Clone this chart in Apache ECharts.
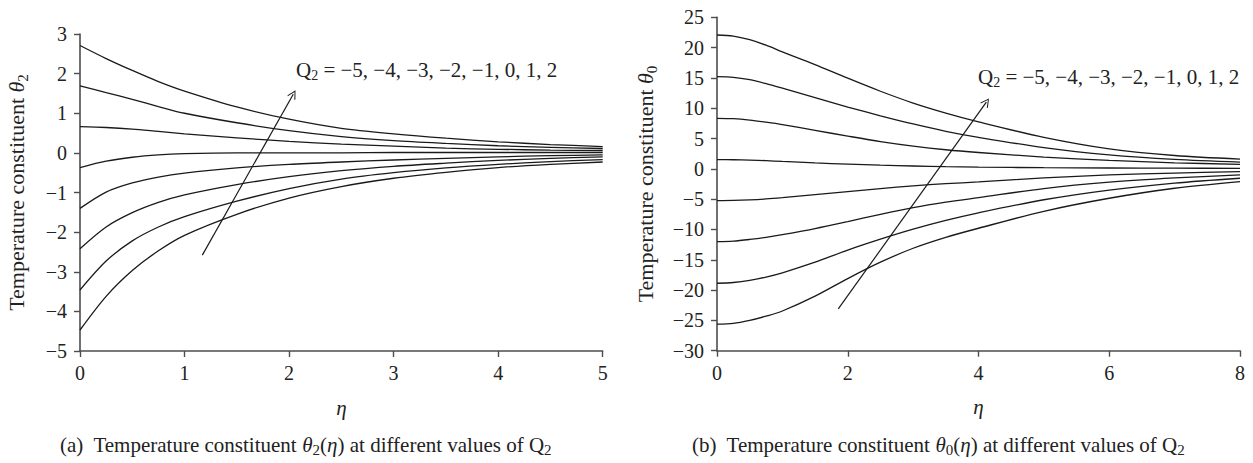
<!DOCTYPE html>
<html>
<head>
<meta charset="utf-8">
<script src="https://cdn.jsdelivr.net/npm/echarts@6/dist/echarts.min.js"></script>
<style>
html,body{margin:0;padding:0;background:#fff;}
#c{width:1253px;height:463px;}
</style>
</head>
<body>
<div id="c"></div>
<script>
// ---------- Panel (a): theta_2(eta) ----------
const etaA = [0, 0.25, 0.5, 0.75, 1, 1.5, 2, 2.5, 3, 3.5, 4, 4.5, 5];
const thA_Q2  = [2.71, 2.38, 2.08, 1.80, 1.56, 1.16, 0.85, 0.62, 0.48, 0.37, 0.28, 0.21, 0.16];
const thA_Q1  = [1.69, 1.52, 1.35, 1.17, 1.00, 0.76, 0.56, 0.41, 0.31, 0.24, 0.18, 0.14, 0.11];
const thA_Q0  = [0.66, 0.64, 0.60, 0.54, 0.48, 0.38, 0.29, 0.22, 0.17, 0.12, 0.09, 0.07, 0.06];
const thA_Qm1 = [-0.37, -0.21, -0.11, -0.05, -0.02, 0.00, 0.00, 0.00, 0.01, 0.01, 0.01, 0.01, 0.01];
const thA_Qm2 = [-1.40, -0.99, -0.76, -0.61, -0.51, -0.38, -0.29, -0.23, -0.18, -0.14, -0.10, -0.07, -0.05];
const thA_Qm3 = [-2.42, -1.87, -1.51, -1.25, -1.06, -0.80, -0.60, -0.45, -0.34, -0.26, -0.19, -0.14, -0.10];
const thA_Qm4 = [-3.46, -2.73, -2.22, -1.87, -1.61, -1.22, -0.90, -0.66, -0.50, -0.38, -0.29, -0.22, -0.17];
const thA_Qm5 = [-4.47, -3.62, -2.97, -2.47, -2.08, -1.55, -1.14, -0.85, -0.64, -0.49, -0.37, -0.29, -0.23];
const arrowA = [[1.17, -2.58], [2.04, 1.48]];

// ---------- Panel (b): theta_0(eta) ----------
const etaB = [0, 0.25, 0.5, 0.75, 1, 1.5, 2, 2.5, 3, 3.5, 4, 5, 6, 7, 8];
const thB_Q2  = [22.08, 21.9, 21.3, 20.4, 19.3, 17.2, 14.95, 12.8, 10.85, 9.2, 7.75, 5.2, 3.3, 2.2, 1.6];
const thB_Q1  = [15.2, 15.1, 14.7, 14.05, 13.3, 11.75, 10.2, 8.75, 7.4, 6.2, 5.2, 3.5, 2.3, 1.55, 1.1];
const thB_Q0  = [8.34, 8.28, 8.05, 7.7, 7.3, 6.35, 5.4, 4.5, 3.75, 3.15, 2.7, 1.95, 1.4, 1.0, 0.75];
const thB_Qm1 = [1.52, 1.50, 1.45, 1.35, 1.22, 0.98, 0.78, 0.6, 0.47, 0.36, 0.28, 0.19, 0.14, 0.11, 0.09];
const thB_Qm2 = [-5.24, -5.21, -5.12, -4.97, -4.75, -4.25, -3.75, -3.25, -2.8, -2.45, -2.15, -1.5, -1.0, -0.7, -0.46];
const thB_Qm3 = [-12.0, -11.92, -11.65, -11.3, -10.85, -9.85, -8.7, -7.5, -6.4, -5.5, -4.75, -3.25, -2.2, -1.5, -1.0];
const thB_Qm4 = [-18.87, -18.75, -18.4, -17.85, -17.15, -15.4, -13.4, -11.6, -9.95, -8.5, -7.25, -5.1, -3.5, -2.35, -1.55];
const thB_Qm5 = [-25.63, -25.5, -25.0, -24.3, -23.45, -21.0, -18.1, -15.4, -13.1, -11.3, -9.8, -7.0, -4.85, -3.2, -2.1];
const arrowB = [[1.855, -23.1], [4.12, 11.0]];

const seriesA = [thA_Q2, thA_Q1, thA_Q0, thA_Qm1, thA_Qm2, thA_Qm3, thA_Qm4, thA_Qm5];
const seriesB = [thB_Q2, thB_Q1, thB_Q0, thB_Qm1, thB_Qm2, thB_Qm3, thB_Qm4, thB_Qm5];

const SERIF = '"Liberation Serif", "DejaVu Serif", serif';
const AXIS_COLOR = '#4d4d4d';
const LINE_COLOR = '#1a1a1a';
const TXT = '#222';
const minusFmt = v => String(v).replace('-', '\u2212');
const chevron = 'path://M10,0 L20,11 L18.4,12.2 L10,2.6 L1.6,12.2 L0,11 Z';

function curve(data, xs, gi) {
  return {
    type: 'line', xAxisIndex: gi, yAxisIndex: gi,
    data: xs.map((x, i) => [x, data[i]]),
    smooth: 0.3, showSymbol: false, silent: true,
    lineStyle: { color: LINE_COLOR, width: 1.3 }
  };
}
function arrow(coords, gi) {
  return {
    type: 'lines', coordinateSystem: 'cartesian2d', xAxisIndex: gi, yAxisIndex: gi,
    data: [{ coords: coords }],
    symbol: ['none', chevron], symbolSize: [11, 9],
    lineStyle: { color: LINE_COLOR, width: 1.2, opacity: 1 },
    silent: true, z: 5
  };
}
function xAx(gi, max, interval) {
  return {
    type: 'value', gridIndex: gi, min: 0, max: max, interval: interval,
    name: '\u03b7', nameLocation: 'middle', nameGap: 46,
    nameTextStyle: { fontFamily: SERIF, fontSize: 21, fontStyle: 'italic', color: TXT },
    axisLine: { onZero: false, lineStyle: { color: AXIS_COLOR, width: 1.6 } },
    axisTick: { show: true, length: 6, lineStyle: { color: AXIS_COLOR, width: 1.4 } },
    axisLabel: { fontFamily: SERIF, fontSize: 20, color: TXT, margin: 12, formatter: minusFmt },
    splitLine: { show: false }
  };
}
function yAx(gi, min, max, interval, sub, gap) {
  return {
    type: 'value', gridIndex: gi, min: min, max: max, interval: interval,
    name: '{n|Temperature constituent }{i|\u03b8}{s|' + sub + '}',
    nameLocation: 'middle', nameGap: gap, nameRotate: 90,
    nameTextStyle: {
      fontFamily: SERIF, fontSize: 22, color: TXT,
      rich: {
        n: { fontFamily: SERIF, fontSize: 22, color: TXT, lineHeight: 28 },
        i: { fontFamily: SERIF, fontSize: 22, fontStyle: 'italic', color: TXT, lineHeight: 28 },
        s: { fontFamily: SERIF, fontSize: 15, color: TXT, verticalAlign: 'bottom', lineHeight: 28 }
      }
    },
    axisLine: { show: true, onZero: false, lineStyle: { color: AXIS_COLOR, width: 1.6 } },
    axisTick: { show: true, length: 6, lineStyle: { color: AXIS_COLOR, width: 1.4 } },
    axisLabel: { fontFamily: SERIF, fontSize: 20, color: TXT, margin: 13, formatter: minusFmt },
    splitLine: { show: false }
  };
}

const richCap = {
  n: { fontFamily: SERIF, fontSize: 21, fill: TXT, lineHeight: 26 },
  i: { fontFamily: SERIF, fontSize: 21, fontStyle: 'italic', fill: TXT, lineHeight: 26 },
  s: { fontFamily: SERIF, fontSize: 15, fill: TXT, verticalAlign: 'bottom', lineHeight: 26 }
};
const richAnn = {
  n: { fontFamily: SERIF, fontSize: 21, fill: TXT, lineHeight: 26 },
  s: { fontFamily: SERIF, fontSize: 14, fill: TXT, verticalAlign: 'bottom', lineHeight: 26 }
};
const annText = '{n|Q}{s|2}{n| = \u22125, \u22124, \u22123, \u22122, \u22121, 0, 1, 2}';

const chart = echarts.init(document.getElementById('c'), null, { renderer: 'svg' });
chart.setOption({
  backgroundColor: '#fff',
  animation: false,
  grid: [
    { left: 80, top: 34, width: 522.7, height: 317 },
    { left: 717, top: 17.3, width: 523, height: 333.4 }
  ],
  xAxis: [xAx(0, 5, 1), xAx(1, 8, 2)],
  yAxis: [yAx(0, -5, 3, 1, '2', 50), yAx(1, -30, 25, 5, '0', 58)],
  series: seriesA.map(d => curve(d, etaA, 0))
    .concat(seriesB.map(d => curve(d, etaB, 1)))
    .concat([arrow(arrowA, 0), arrow(arrowB, 1)]),
  graphic: [
    { type: 'text', left: 296, top: 59, style: { text: annText, rich: richAnn } },
    { type: 'text', left: 978, top: 66, style: { text: annText, rich: richAnn } },
    { type: 'text', left: 60, top: 434, style: {
        text: '{n|(a)  Temperature constituent }{i|\u03b8}{s|2}{n|(}{i|\u03b7}{n|) at different values of Q}{s|2}',
        rich: richCap } },
    { type: 'text', left: 692, top: 434, style: {
        text: '{n|(b)  Temperature constituent }{i|\u03b8}{s|0}{n|(}{i|\u03b7}{n|) at different values of Q}{s|2}',
        rich: richCap } }
  ]
});
</script>
</body>
</html>
